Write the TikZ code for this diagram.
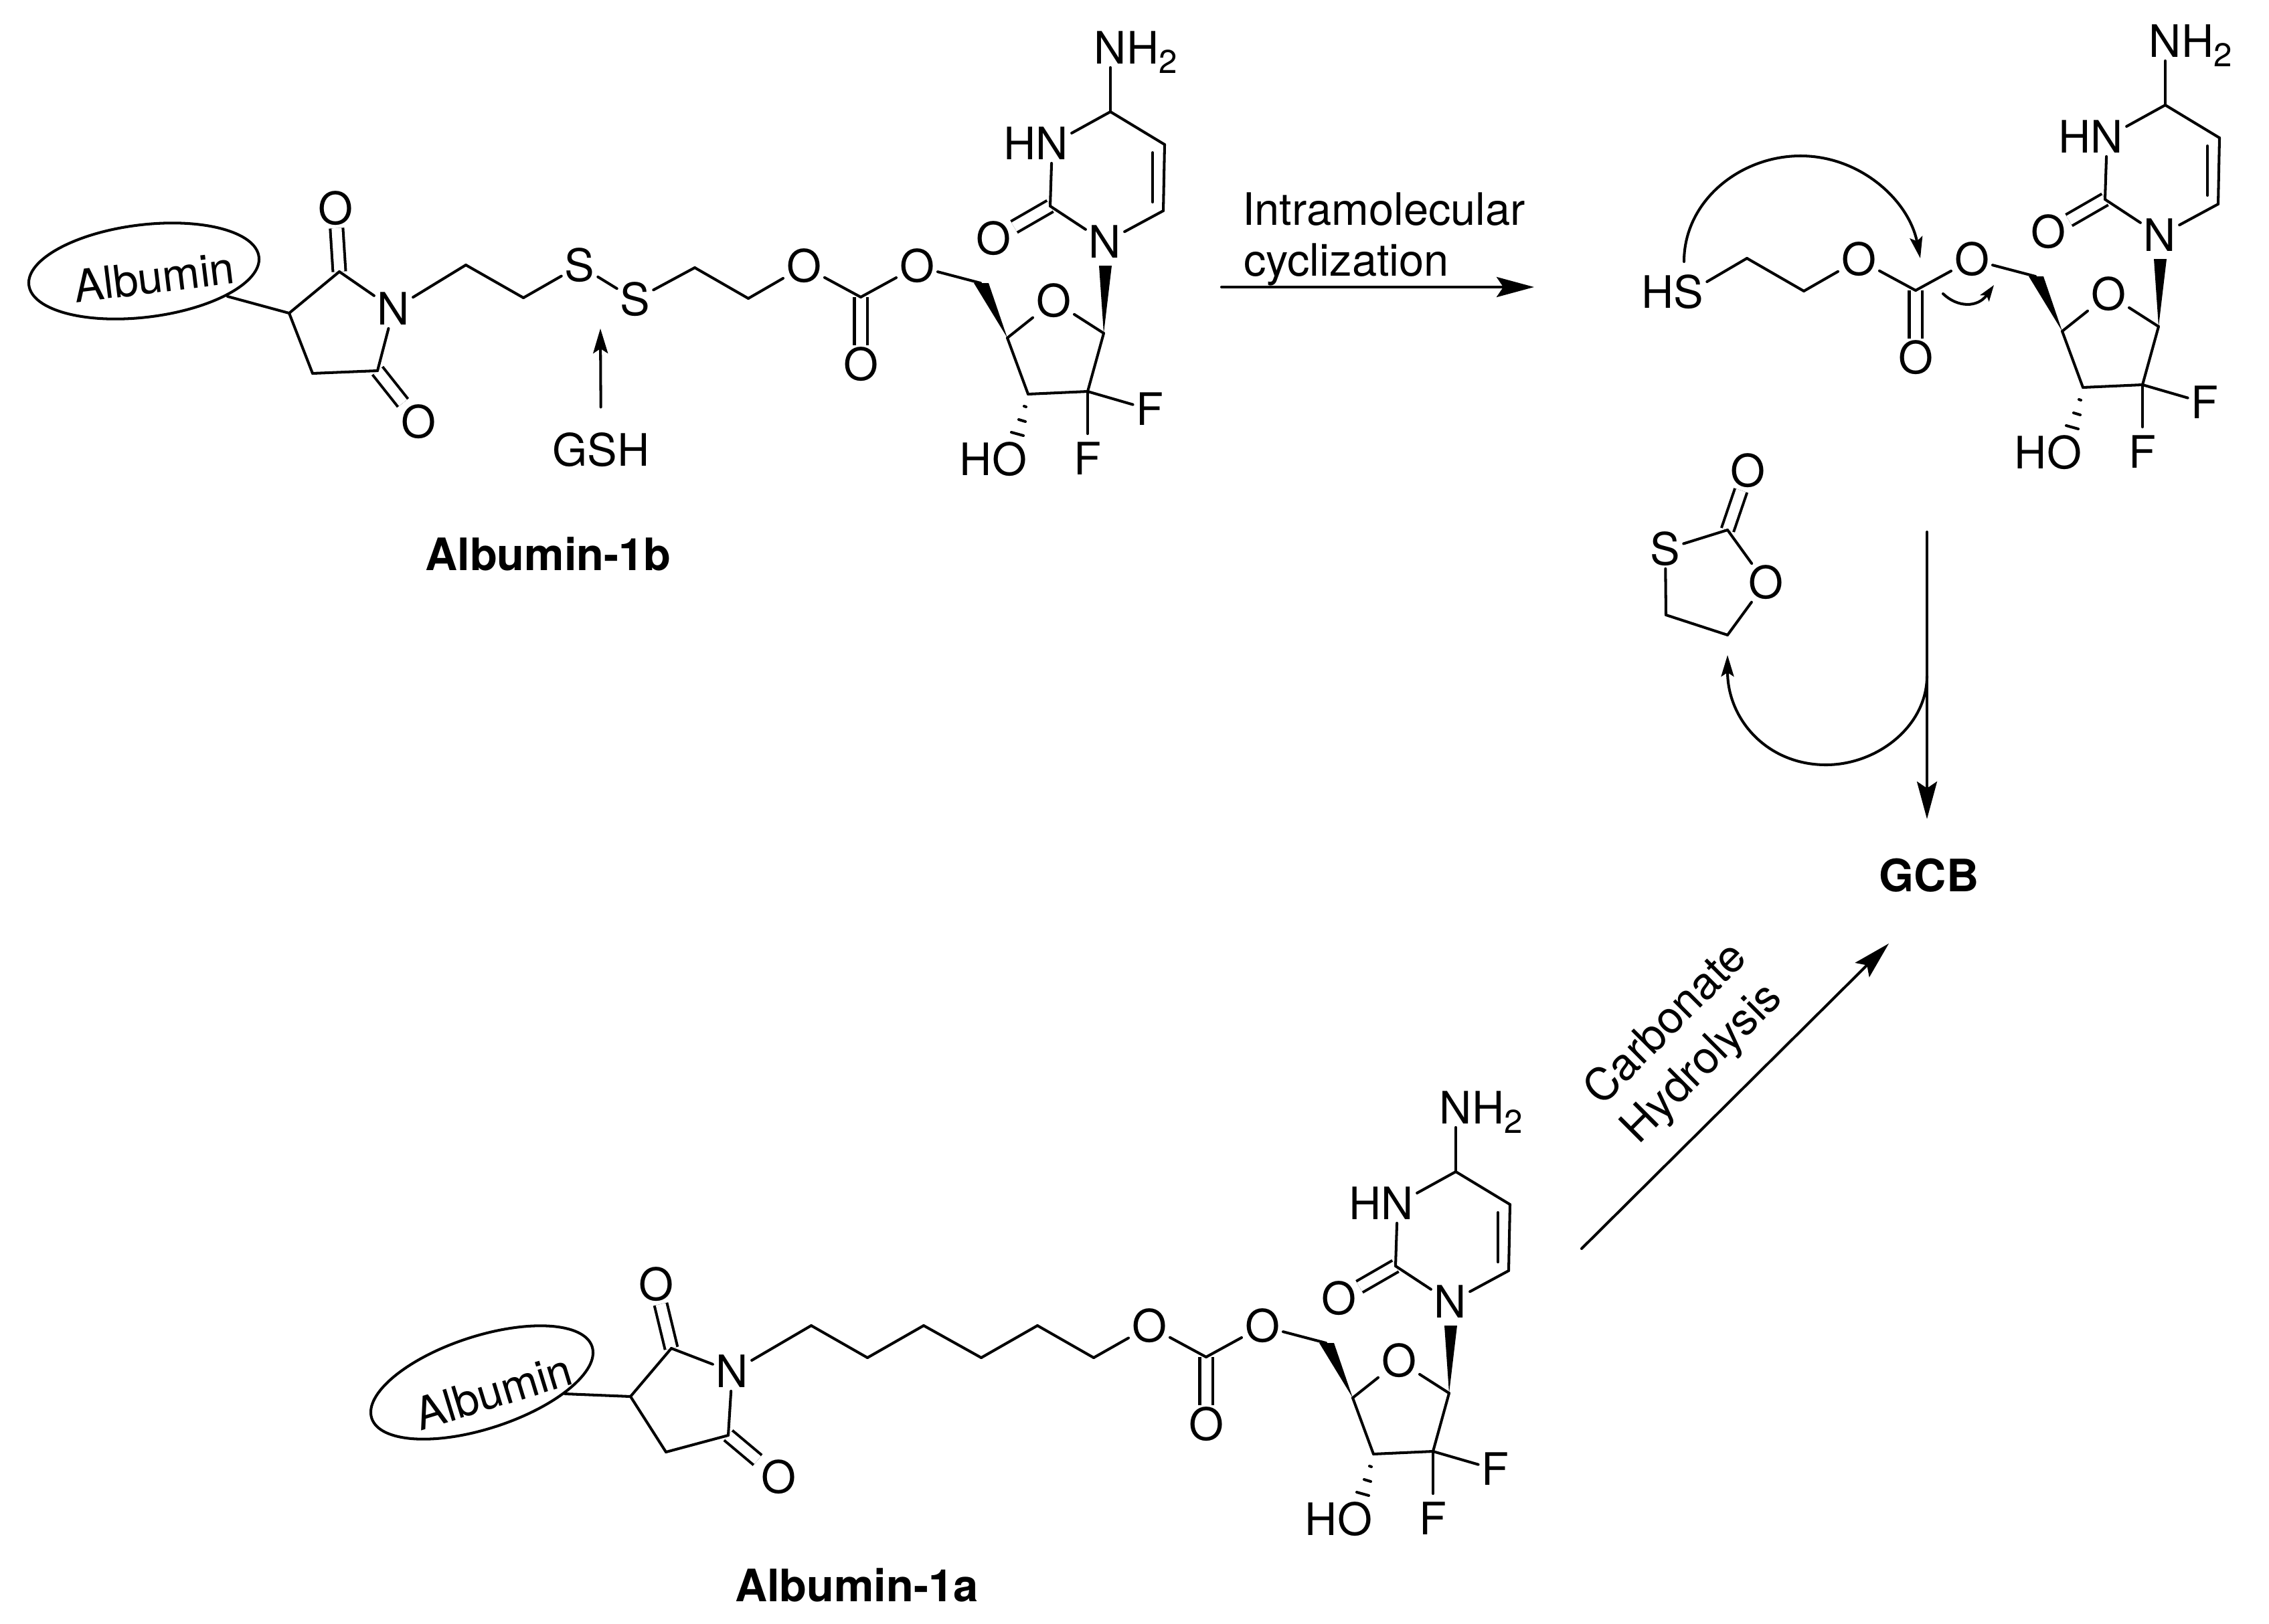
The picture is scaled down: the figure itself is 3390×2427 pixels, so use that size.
\documentclass[tikz,border=0pt]{standalone}
\usepackage{fontspec}
\setmainfont{TeX Gyre Heros}
\usetikzlibrary{arrows.meta,positioning,shapes.geometric}

\newcommand{\subtwo}{\raisebox{-3.8pt}{\fontsize{14}{14}\selectfont 2}}

\tikzset{
    atom/.style={inner sep=0.05cm, outer sep=0pt, text height=13.6pt, text depth=0pt, font=\fontsize{19}{19}\selectfont},
    lbl/.style={inner sep=0pt, font=\fontsize{19}{19}\selectfont},
    title/.style={inner sep=0pt, font=\fontsize{19}{19}\selectfont\bfseries},
    dbl/.style={double, double distance=0.15cm, line cap=butt},
    blob/.style={draw, ellipse, minimum width=3.46cm, minimum height=1.38cm, inner sep=0pt},
    bigarrow/.style={-{Stealth[length=0.56cm, width=0.30cm, inset=0.10cm]}},
    smallarrow/.style={-{Stealth[length=0.32cm, width=0.19cm, inset=0.06cm]}}
}

% sugar, cytosine ring and carbonate, #1 = prefix, (#2,#3) = offset
\newcommand{\nucleoside}[3]{%
    \begin{scope}[shift={(#2,#3)}]
        \node[atom] (#1Oa) at (1201,398) {O};
        \coordinate (#1Cc) at (1286,444);
        \node[atom] (#1Ob) at (1370,398) {O};
        \node[atom] (#1Oc) at (1286,545) {O};
        \coordinate (#1C5p) at (1465,423);
        \coordinate (#1C4p) at (1505,505);
        \node[atom] (#1O4p) at (1574,450) {O};
        \coordinate (#1C1p) at (1649,498);
        \coordinate (#1C2p) at (1625,585);
        \coordinate (#1C3p) at (1536,589);
        \node[atom] (#1Fa) at (1718,612) {F};
        \node[atom] (#1Fb) at (1625,686) {F};
        \node[atom] (#1Oh) at (1508,687) {O};
        \node[atom, left=-0.1cm of #1Oh] (#1Hh) {H};
        \node[atom] (#1N1) at (1651,362) {N};
        \coordinate (#1C6) at (1738,315);
        \coordinate (#1C5) at (1740,216);
        \coordinate (#1C4) at (1659,167);
        \node[atom] (#1N3) at (1572,215) {N};
        \node[atom, left=-0.1cm of #1N3] (#1H3) {H};
        \coordinate (#1C2) at (1569,308);
        \node[atom] (#1O2) at (1484,357) {O};
        \node[atom] (#1Nh) at (1659,72) {N};
        \node[atom, right=-0.1cm of #1Nh] (#1H2) {H\subtwo};

        \coordinate (#1wa) at (1455,423);
        \coordinate (#1wb) at (1477,423);
        \coordinate (#1wc) at (1642,397);
        \coordinate (#1wd) at (1661,397);
        \coordinate (#1ia) at (1722,228);
        \coordinate (#1ib) at (1722,302);

        \draw[dbl] (#1Cc) -- (#1Oc);
        \draw[dbl] (#1C2) -- (#1O2);

        \draw (#1Oa) -- (#1Cc);
        \draw (#1Cc) -- (#1Ob);
        \draw (#1Ob) -- (#1C5p);
        \fill (#1C4p) -- (#1wa) -- (#1wb) -- cycle;
        \draw (#1C4p) -- (#1O4p);
        \draw (#1O4p) -- (#1C1p);
        \draw (#1C1p) -- (#1C2p);
        \draw (#1C2p) -- (#1C3p);
        \draw (#1C3p) -- (#1C4p);
        \draw (#1C2p) -- (#1Fa);
        \draw[shorten >=0.09cm] (#1C2p) -- (#1Fb);
        \fill (#1C1p) -- (#1wc) -- (#1wd) -- cycle;
        \draw (#1N1) -- (#1C6);
        \draw (#1C6) -- (#1C5);
        \draw (#1ia) -- (#1ib);
        \draw (#1C5) -- (#1C4);
        \draw (#1C4) -- (#1N3);
        \draw (#1N3) -- (#1C2);
        \draw (#1C2) -- (#1N1);
        \draw (#1C4) -- (#1Nh);

        \draw (1530,607) -- (1533,608);
        \draw (1522,627) -- (1532,630);
        \draw (1511,646) -- (1529,651);
    \end{scope}
}

\begin{document}
\begin{tikzpicture}[x=0.01cm, y=-0.01cm, line width=1.15pt, line cap=round]
    \useasboundingbox (0,0) rectangle (3390,2427);

    % Albumin-1b
    \node[blob, rotate=7] (B1) at (215,405) {};
    \node[lbl, rotate=7] (B1t) at (230,414) {Albumin};
    \coordinate (B1e) at (340,443);
    \coordinate (BC3) at (432,468);
    \coordinate (BC2) at (507,406);
    \node[atom] (BN) at (588,462) {N};
    \coordinate (BC5) at (564,554);
    \coordinate (BC4) at (467,558);
    \node[atom] (BOa) at (501,312) {O};
    \node[atom] (BOb) at (625,631) {O};
    \coordinate (BCa) at (696,396);
    \coordinate (BCb) at (782,445);
    \node[atom] (BSa) at (866,397) {S};
    \node[atom] (BSb) at (949,448) {S};
    \coordinate (BCc) at (1038,400);
    \coordinate (BCd) at (1118,446);

    \draw[dbl] (BC2) -- (BOa);
    \draw[dbl] (BC5) -- (BOb);
    \draw (B1e) -- (BC3);
    \draw (BC3) -- (BC2);
    \draw (BC2) -- (BN);
    \draw (BN) -- (BC5);
    \draw (BC5) -- (BC4);
    \draw (BC4) -- (BC3);
    \draw (BN) -- (BCa);
    \draw (BCa) -- (BCb);
    \draw (BCb) -- (BSa);
    \draw (BSa) -- (BSb);
    \draw (BSb) -- (BCc);
    \draw (BCc) -- (BCd);

    \nucleoside{B}{0}{0}
    \draw (BCd) -- (BOa);

    \node[lbl] (GSH) at (898,672) {GSH};
    \coordinate (GSHt) at (897,491);
    \draw[-{Stealth[length=0.37cm, width=0.22cm, inset=0.07cm]}, shorten <=0.36cm] (GSH) -- (GSHt);
    \node[title] (Bt) at (819,828) {Albumin-1b};

    % step to the free thiol
    \coordinate (Ia) at (1825,429);
    \coordinate (Ib) at (2292,429);
    \draw[bigarrow] (Ia) -- (Ib);
    \node[lbl, anchor=base west] (Il) at (1854,336) {Intramolecular};
    \node[lbl, anchor=base west] (Im) at (1856,412) {cyclization};

    % thiol
    \nucleoside{T}{1576}{-10}
    \node[atom] (TS) at (2523,437) {S};
    \node[atom, left=-0.1cm of TS] (TH) {H};
    \coordinate (TCa) at (2610,386);
    \coordinate (TCb) at (2695,435);
    \draw (TS) -- (TCa);
    \draw (TCa) -- (TCb);
    \draw (TCb) -- (TOa);

    \coordinate (Ta) at (2516,391);
    \coordinate (Tb) at (2690,233);
    \coordinate (Tc) at (2869,386);
    \draw[smallarrow] (Ta) .. controls (2516,300) and (2600,233) .. (Tb) .. controls (2780,233) and (2852,300) .. (Tc);
    \coordinate (Td) at (2903,439);
    \coordinate (Te) at (2979,426);
    \draw[-{Stealth[length=0.24cm, width=0.16cm, inset=0.05cm]}] (Td) .. controls (2925,460) and (2955,460) .. (Te);

    % thiocarbonate
    \node[atom] (SOa) at (2611,704) {O};
    \coordinate (SC) at (2581,792);
    \node[atom] (SS) at (2488,821) {S};
    \coordinate (SCa) at (2489,919);
    \coordinate (SCb) at (2581,949);
    \node[atom] (SOb) at (2638,871) {O};
    \draw[dbl] (SC) -- (SOa);
    \draw (SC) -- (SS);
    \draw (SS) -- (SCa);
    \draw (SCa) -- (SCb);
    \draw (SCb) -- (SOb);
    \draw (SOb) -- (SC);

    % to GCB
    \node[title] (GCB) at (2882,1308) {GCB};
    \coordinate (Da) at (2879,795);
    \coordinate (Db) at (2879,1224);
    \draw[bigarrow] (Da) -- (Db);
    \coordinate (Ea) at (2879,1010);
    \coordinate (Eb) at (2728,1143);
    \coordinate (Ec) at (2581,979);
    \draw[smallarrow] (Ea) .. controls (2879,1085) and (2805,1143) .. (Eb) .. controls (2640,1143) and (2581,1075) .. (Ec);

    \coordinate (Ha) at (2363,1866);
    \coordinate (Hb) at (2822,1410);
    \draw[bigarrow] (Ha) -- (Hb);
    \node[lbl, rotate=45] (Hl) at (2486,1527) {Carbonate};
    \node[lbl, rotate=45] (Hm) at (2545,1591) {Hydrolysis};

    % Albumin-1a
    \node[blob, rotate=18] (A1) at (720,2066) {};
    \node[lbl, rotate=17] (A1t) at (737,2080) {Albumin};
    \coordinate (A1e) at (844,2083);
    \coordinate (AC3) at (942,2087);
    \coordinate (AC2) at (1003,2015);
    \node[atom] (AN) at (1094,2050) {N};
    \coordinate (AC5) at (1088,2145);
    \coordinate (AC4) at (995,2170);
    \node[atom] (AOa) at (980,1920) {O};
    \node[atom] (AOb) at (1163,2208) {O};
    \coordinate (ACa) at (1212,1981);
    \coordinate (ACb) at (1296,2029);
    \coordinate (ACc) at (1380,1981);
    \coordinate (ACd) at (1466,2029);
    \coordinate (ACe) at (1550,1981);
    \coordinate (ACf) at (1634,2029);

    \draw[dbl] (AC2) -- (AOa);
    \draw[dbl] (AC5) -- (AOb);
    \draw (A1e) -- (AC3);
    \draw (AC3) -- (AC2);
    \draw (AC2) -- (AN);
    \draw (AN) -- (AC5);
    \draw (AC5) -- (AC4);
    \draw (AC4) -- (AC3);
    \draw (AN) -- (ACa);
    \draw (ACa) -- (ACb);
    \draw (ACb) -- (ACc);
    \draw (ACc) -- (ACd);
    \draw (ACd) -- (ACe);
    \draw (ACe) -- (ACf);

    \nucleoside{A}{516}{1584}
    \draw (ACf) -- (AOa);

    \node[title] (At) at (1280,2369) {Albumin-1a};
\end{tikzpicture}
\end{document}
